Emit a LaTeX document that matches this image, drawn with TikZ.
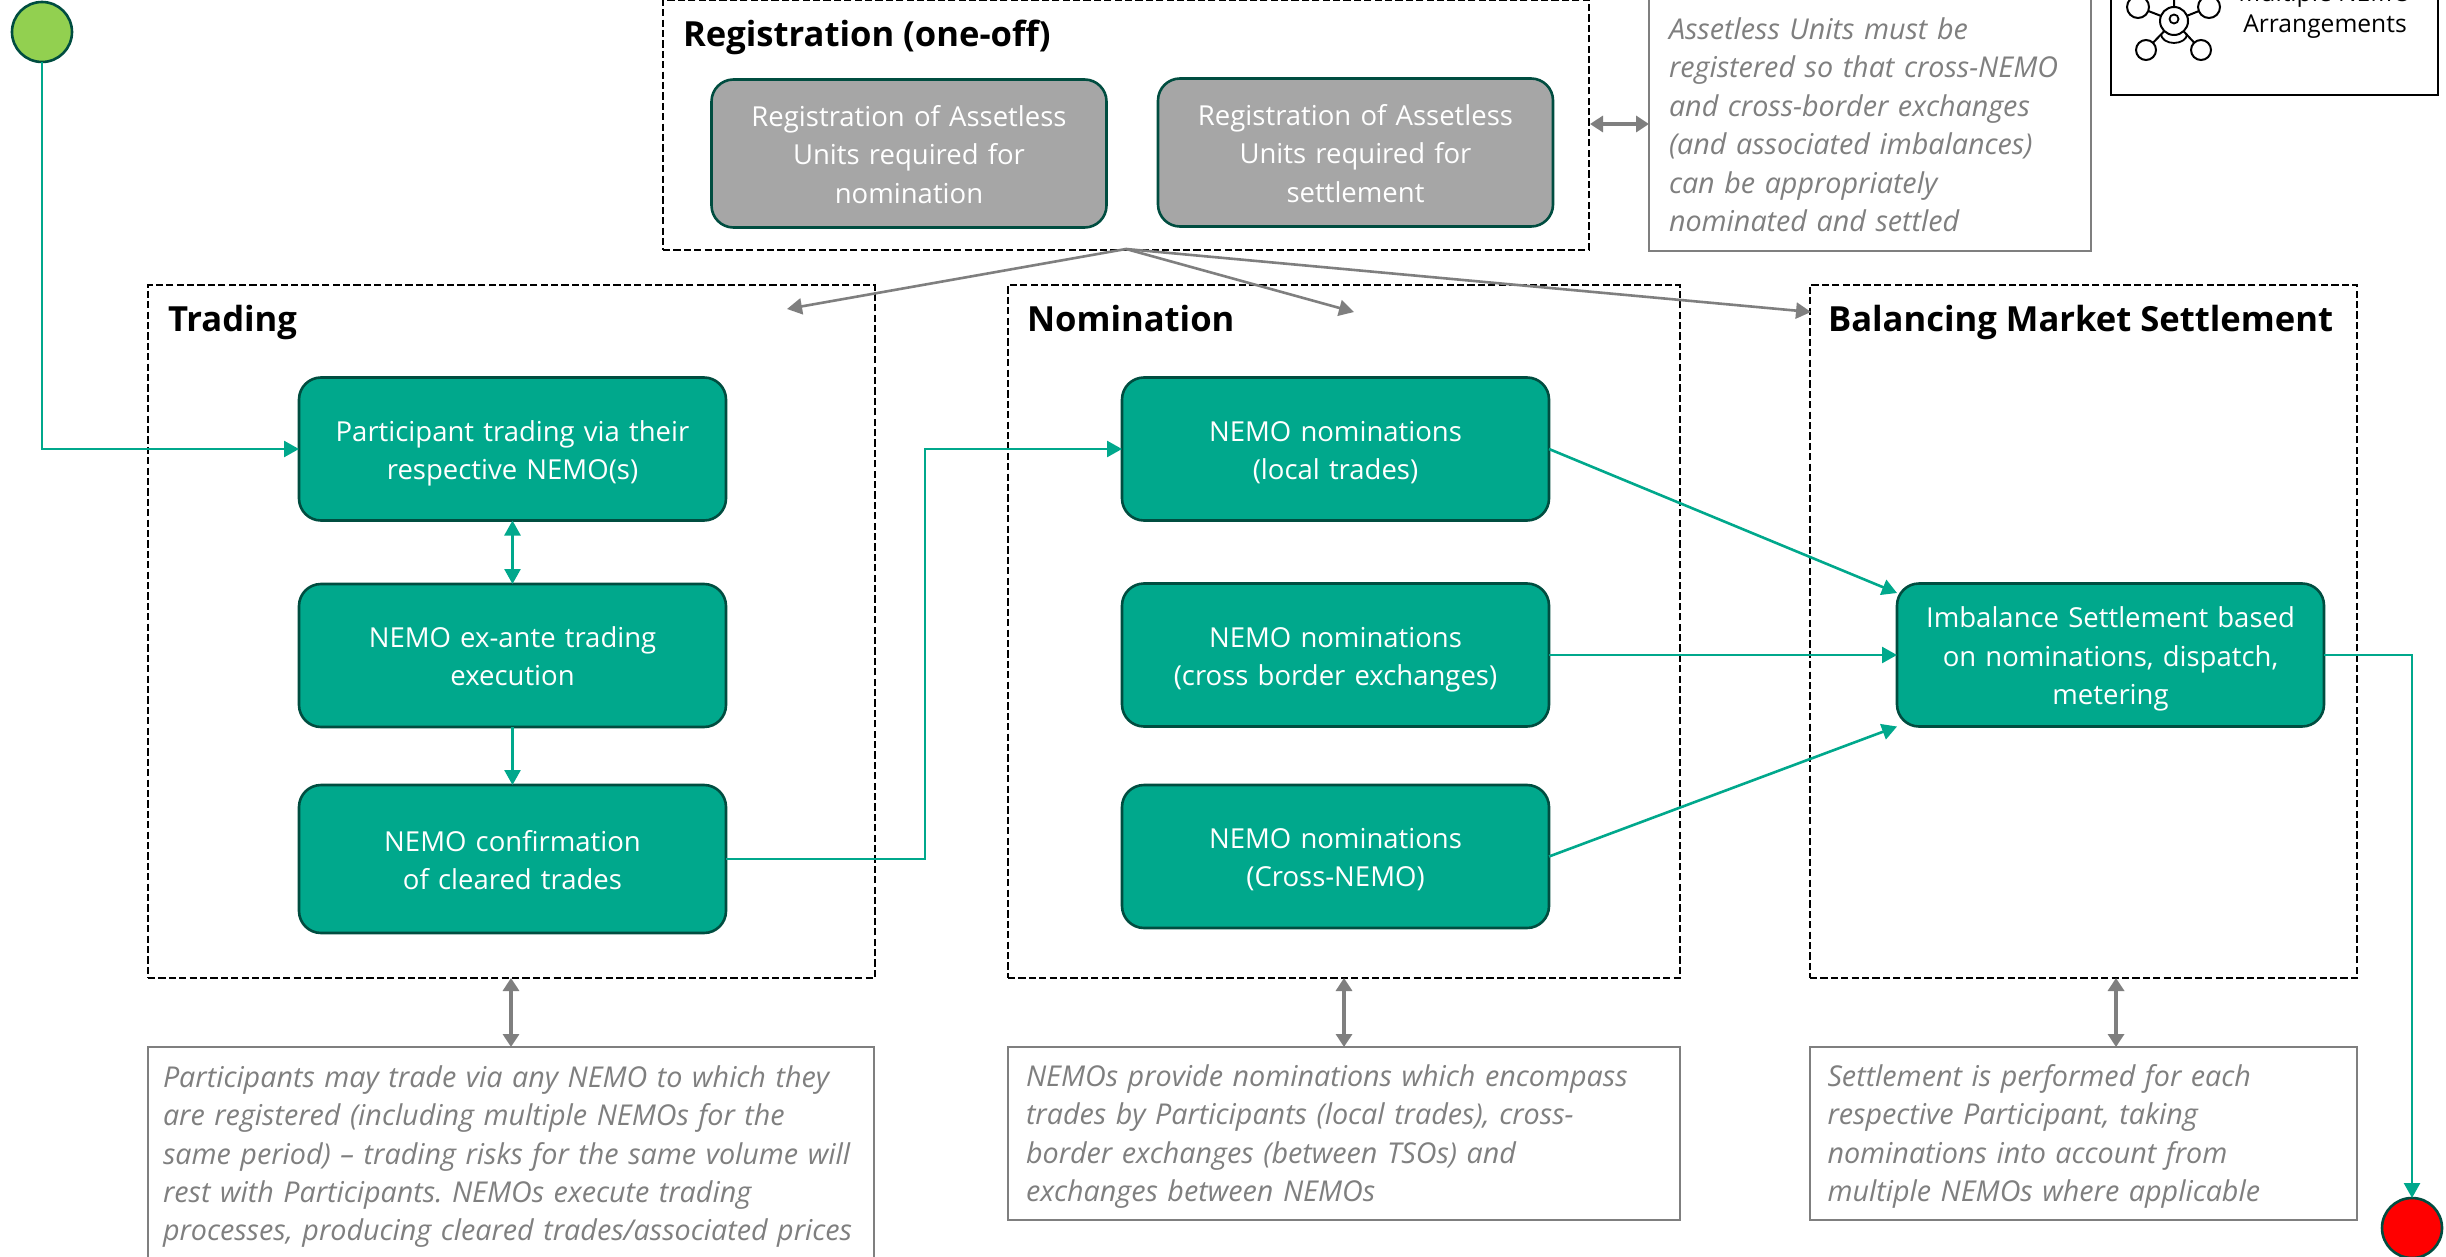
\documentclass[tikz,border=0pt]{standalone}
\usepackage{fontspec}
\setmainfont{Open Sans}
\frenchspacing
\usetikzlibrary{arrows.meta,calc}
\definecolor{teal}{RGB}{0,168,140}
\definecolor{darkedge}{RGB}{0,77,64}
\definecolor{greyline}{RGB}{127,127,127}
\definecolor{greyfill}{RGB}{166,166,166}
\definecolor{startgreen}{RGB}{146,208,80}
\tikzset{
 x=0.5pt,y=-0.5pt,
 every node/.style={outer sep=0pt,inner sep=0pt},
 bodytext/.style={font=\fontsize{13.75}{19.2}\selectfont,text width=190pt,execute at begin node={\rule{0pt}{15.5pt}},execute at end node={\rule[-4.3pt]{0pt}{4.3pt}}},
 procbox/.style={draw=darkedge,line width=1.3pt,fill=teal,rounded corners=11pt,text=white,align=center,minimum width=213.5pt,minimum height=71.5pt,bodytext},
 regbox/.style={draw=darkedge,line width=1.3pt,fill=greyfill,rounded corners=11pt,text=white,align=center,minimum width=197.5pt,minimum height=74pt,bodytext},
 groupbox/.style={draw=black,dashed,dash pattern=on 3.6pt off 1.6pt,line width=1.4pt},
 grouptitle/.style={anchor=base west,font=\fontsize{17.3}{20}\selectfont\bfseries},
 notebox/.style={draw=greyline,line width=0.9pt,text=greyline,align=left,font=\fontsize{14.35}{19.2}\selectfont\itshape,execute at begin node={\rule{0pt}{14.8pt}},execute at end node={\rule[-4.3pt]{0pt}{4.3pt}}},
 flow/.style={draw=teal,line width=1.3pt,-{Triangle[length=7.5pt,width=8pt]}},
 flowboth/.style={draw=teal,line width=1.3pt,{Triangle[length=7.5pt,width=8pt]}-{Triangle[length=7.5pt,width=8pt]}},
 greyarrow/.style={draw=greyline,line width=1.3pt,-{Triangle[length=7.5pt,width=8pt]}},
 greyboth/.style={draw=greyline,line width=1.7pt,{Triangle[length=6.5pt,width=8pt]}-{Triangle[length=6.5pt,width=8pt]}},
 terminal/.style={circle,draw=darkedge,line width=1.3pt,minimum size=30pt},
 iconring/.style={circle,draw=black,line width=1pt,fill=white},
}
\begin{document}
\begin{tikzpicture}
\useasboundingbox (0,0) rectangle (2446,1257);
\clip (0,0) rectangle (2446,1257);
\fill[white] (0,0) rectangle (2446,1257);

% group boxes
\node[groupbox,minimum width=463pt,minimum height=125pt] (reg) at (1126,125) {};
\node[groupbox,minimum width=363.5pt,minimum height=346.5pt] (trading) at (511.5,631.5) {};
\node[groupbox,minimum width=336pt,minimum height=346.5pt] (nomination) at (1344,631.5) {};
\node[groupbox,minimum width=273.5pt,minimum height=346.5pt] (balancing) at (2083.5,631.5) {};

\node[grouptitle] (regt) at (683,47) {Registration (one-off)};
\node[grouptitle] (tradt) at (168,331) {Trading};
\node[grouptitle] (nomt) at (1027,331) {Nomination};
\node[grouptitle] (balt) at (1828,331) {Balancing Market Settlement};

% registration boxes
\node[regbox] (rega) at (909,153.5) {Registration of Assetless\\Units required for\\nomination};
\node[regbox] (regb) at (1355.5,152.5) {Registration of Assetless\\Units required for\\settlement};

% process boxes
\node[procbox] (part) at (512.5,449) {Participant trading via their\\respective NEMO(s)};
\node[procbox] (exante) at (512.5,655.5) {NEMO ex-ante trading\\execution};
\node[procbox,minimum height=74pt] (confirm) at (512.5,859) {NEMO confirmation\\of cleared trades};
\node[procbox] (nlocal) at (1335.5,449) {NEMO nominations\\(local trades)};
\node[procbox] (ncross) at (1335.5,655) {NEMO nominations\\(cross border exchanges)};
\node[procbox] (nnemo) at (1335.5,856.5) {NEMO nominations\\(Cross-NEMO)};
\node[procbox] (imb) at (2110.5,655) {Imbalance Settlement based\\on nominations, dispatch,\\metering};

% notes
\node[notebox,minimum width=221pt,minimum height=126pt,text width=201pt] (regnote) at (1870,125) {Assetless Units must be\\registered so that cross-NEMO\\and cross-border exchanges\\(and associated imbalances)\\can be appropriately\\nominated and settled};
\node[notebox,minimum width=363pt,minimum height=106.5pt,text width=348pt] (tradnote) at (511,1153.5) {Participants may trade via any NEMO to which they\\are registered (including multiple NEMOs for the\\same period) – trading risks for the same volume will\\rest with Participants. NEMOs execute trading\\processes, producing cleared trades/associated prices};
\node[notebox,minimum width=336pt,minimum height=86.5pt,text width=318pt] (nomnote) at (1344,1133.5) {NEMOs provide nominations which encompass\\trades by Participants (local trades), cross-\\border exchanges (between TSOs) and\\exchanges between NEMOs};
\node[notebox,minimum width=273.5pt,minimum height=86.5pt,text width=256pt] (balnote) at (2083.5,1133.5) {Settlement is performed for each\\respective Participant, taking\\nominations into account from\\multiple NEMOs where applicable};

% terminals
\node[terminal,fill=startgreen] (start) at (42,32) {};
\node[terminal,fill=red] (stop) at (2412,1228) {};

% legend
\node[draw=black,line width=1.3pt,minimum width=163.5pt,minimum height=70pt] (legend) at (2274.5,25) {};
\node[align=center,font=\fontsize{12.3}{15.5}\selectfont] (legendt) at (2325,11) {Multiple NEMO\\Arrangements};
\node[iconring,minimum size=14pt] (ihub) at (2174,21) {};
\node[iconring,minimum size=11pt] (ia) at (2138,7) {};
\node[iconring,minimum size=11pt] (ib) at (2209,7) {};
\node[iconring,minimum size=10pt] (ic) at (2146,50) {};
\node[iconring,minimum size=10pt] (id) at (2201,50) {};
\node[iconring,minimum size=11pt] (ie) at (2174,-24) {};
\draw[line width=1pt] (ihub) -- (ia) (ihub) -- (ib) (ihub) -- (ic) (ihub) -- (id) (ihub) -- (ie);
\node[circle,draw=black,line width=0.9pt,minimum size=4.5pt] (ihead) at (2174,19) {};
\draw[line width=0.9pt] (2161,34) arc[start angle=180,end angle=0,x radius=6.5pt,y radius=-4.5pt];

% named free ends
\coordinate (imbtop) at (1897,593);
\coordinate (regfoot) at (1126,249);
\coordinate (aimt) at (787,309);
\coordinate (aimn) at (1354,312);
\coordinate (aimb) at (1811,312);
\coordinate (trbot) at (511,978);
\coordinate (trnote) at (511,1047);
\coordinate (balbot) at (2116,978);
\coordinate (balnotetop) at (2116,1047);
\coordinate (regr) at (1590,124);
\coordinate (regnl) at (1649,124);

% connectors
\draw[flow] (start.south) |- (part.west);
\draw[flowboth] (part.south) -- (exante.north);
\draw[flow] (exante.south) -- (confirm.north);
\draw[flow] (confirm.east) -- (925,859) -- (925,449) -- (nlocal.west);
\draw[flow] (nlocal.east) -- (imbtop);
\draw[flow] (ncross.east) -- (imb.west);
\draw[flow] (nnemo.east) -- (imb.south west);
\draw[flow] (imb.east) -| (stop.north);

\draw[greyarrow] (regfoot) -- (aimt);
\draw[greyarrow] (regfoot) -- (aimn);
\draw[greyarrow] (regfoot) -- (aimb);
\draw[greyboth] (regr) -- (regnl);
\draw[greyboth] (trbot) -- (trnote);
\draw[greyboth] (nomination.south) -- (nomnote.north);
\draw[greyboth] (balbot) -- (balnotetop);
\end{tikzpicture}
\end{document}
